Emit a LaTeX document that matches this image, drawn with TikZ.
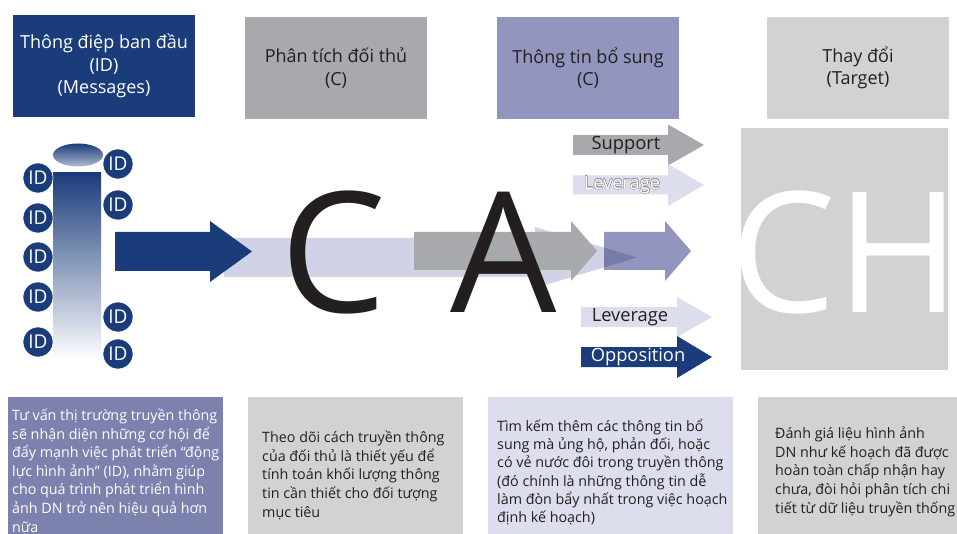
\documentclass[tikz,border=0pt]{standalone}
\usepackage{fontspec}
\setmainfont{Open Sans}
\usepackage{contour}
\contourlength{0.35pt}

\definecolor{idblue}{HTML}{1B3C7B}
\definecolor{rivalgray}{HTML}{A7A9AC}
\definecolor{extrapurple}{HTML}{9296BE}
\definecolor{targetgray}{HTML}{D1D2D4}
\definecolor{lavender}{HTML}{D0D2E5}
\definecolor{palelav}{HTML}{DCDEED}
\definecolor{notepurple}{HTML}{7C81AE}
\definecolor{inkblack}{HTML}{231F20}

% block arrow: style, start x, tip x, mid y, half shaft, half head, head length
\newcommand{\blockarrow}[7]{%
  \fill[#1] (#2,#4-#5) -- (#3-#7,#4-#5) -- (#3-#7,#4-#6) -- (#3,#4)
    -- (#3-#7,#4+#6) -- (#3-#7,#4+#5) -- (#2,#4+#5) -- cycle;}

\begin{document}
\begin{tikzpicture}[x=1pt, y=-1pt,
  headbox/.style = {rectangle, minimum width=182, minimum height=102,
    inner sep=0, align=center, font=\fontsize{18}{22.5}\selectfont},
  idcirc/.style = {circle, fill=idblue, draw=white, line width=0.6pt,
    minimum size=30, inner sep=0, text=white,
    font=\fontsize{19}{19}\selectfont},
  bigletter/.style = {anchor=base, inner sep=0,
    font=\fontsize{168}{168}\selectfont},
  tag/.style = {inner sep=0, font=\fontsize{18.3}{19}\selectfont},
  notebox/.style = {rectangle, minimum width=215, minimum height=137, inner sep=0},
  notetext/.style = {anchor=base west, inner sep=0, align=left,
    font=\fontsize{14.3}{18.6}\selectfont}]
  \useasboundingbox (0,0) rectangle (957,534);

  % header row
  \node[headbox, fill=idblue, text=white] (msghead) at (104,66)
    {Thông điệp ban đầu\\(ID)\\(Messages)};
  \node[headbox, fill=rivalgray, text=inkblack] (rivalhead) at (336,68)
    {Phân tích đối thủ\\(C)};
  \node[headbox, fill=extrapurple, text=inkblack] (extrahead) at (588,68)
    {Thông tin bổ sung\\(C)};
  \node[headbox, fill=targetgray, text=inkblack] (targethead) at (858,68)
    {Thay đổi\\(Target)};

  % ID column
  \shade[top color=idblue, middle color=notepurple!85!idblue, bottom color=white]
    (53,173) rectangle (101,360);
  \shade[top color=idblue, bottom color=idblue!35] (78,155) ellipse [x radius=25, y radius=11.5];
  \foreach \y [count=\i] in {178,218,257,297,342}
    \node[idcirc] (idL\i) at (38,\y) {ID};
  \foreach \y [count=\i] in {164,205,317,354}
    \node[idcirc] (idR\i) at (118,\y) {ID};

  % main flow
  \blockarrow{lavender}{224}{637}{257.5}{19.5}{30.5}{102}
  \blockarrow{idblue}{115}{252}{251.5}{19.5}{30.5}{42}
  \blockarrow{rivalgray}{414}{597}{251}{19}{30}{26}
  \blockarrow{extrapurple, blend mode=multiply}{604}{691}{251}{19}{30}{26}

  % side arrows
  \blockarrow{rivalgray}{573}{704}{145}{10}{20.5}{36}
  \blockarrow{palelav}{573}{704}{185}{9.5}{21}{36}
  \blockarrow{palelav}{581}{712}{317}{10}{20}{35}
  \blockarrow{idblue}{581}{712}{357}{10}{21}{35}
  \node[tag, text=inkblack] (support) at (626,145) {Support};
  \node[tag] (leverup) at (622,185) {\contour{gray!80}{\textcolor{white}{Leverage}}};
  \node[tag, text=inkblack] (leverdown) at (630,317) {Leverage};
  \node[tag, text=white] (oppose) at (638,357) {Opposition};

  % big letters
  \node[bigletter, text=inkblack] (bigC) at (333,312) {C};
  \node[bigletter, text=inkblack] (bigA) at (504,312) {A};
  \node[rectangle, fill=targetgray, minimum width=207, minimum height=242,
    inner sep=0] (chbox) at (844.5,249) {};
  \node[bigletter, text=white] (bigCH) at (845,312) {CH};

  % notes (anchored on the baseline of the last line)
  \node[notebox, fill=notepurple] (idnote) at (115.5,465.5) {};
  \node[notebox, fill=targetgray] (rivalnote) at (355,465.5) {};
  \node[notebox, fill=palelav, minimum width=245] (extranote) at (610.5,465.5) {};
  \node[notebox, fill=targetgray, minimum width=199] (targetnote) at (857.5,465.5) {};
  \node[notetext, text=white] (idtext) at (12,532)
    {Tư vấn thị trường truyền thông\\sẽ nhận diện những cơ hội để\\đẩy mạnh việc phát triển “động\\lực hình ảnh” (ID), nhằm giúp\\cho quá trình phát triển hình\\ảnh DN trở nên hiệu quả hơn\\nữa};
  \node[notetext, text=inkblack] (rivaltext) at (262,517)
    {Theo dõi cách truyền thông\\của đối thủ là thiết yếu để\\tính toán khối lượng thông\\tin cần thiết cho đối tượng\\mục tiêu};
  \node[notetext, text=inkblack, font=\fontsize{14.3}{18.2}\selectfont] (extratext) at (497,522.5)
    {Tìm kếm thêm các thông tin bổ\\sung mà ủng hộ, phản đối, hoặc\\có vẻ nước đôi trong truyền thông\\(đó chính là những thông tin dễ\\làm đòn bẩy nhất trong việc hoạch\\định kế hoạch)};
  \node[notetext, text=inkblack] (targettext) at (775,513)
    {Đánh giá liệu hình ảnh\\DN như kế hoạch đã được\\hoàn toàn chấp nhận hay\\chưa, đòi hỏi phân tích chi\\tiết từ dữ liệu truyền thống};
\end{tikzpicture}
\end{document}
